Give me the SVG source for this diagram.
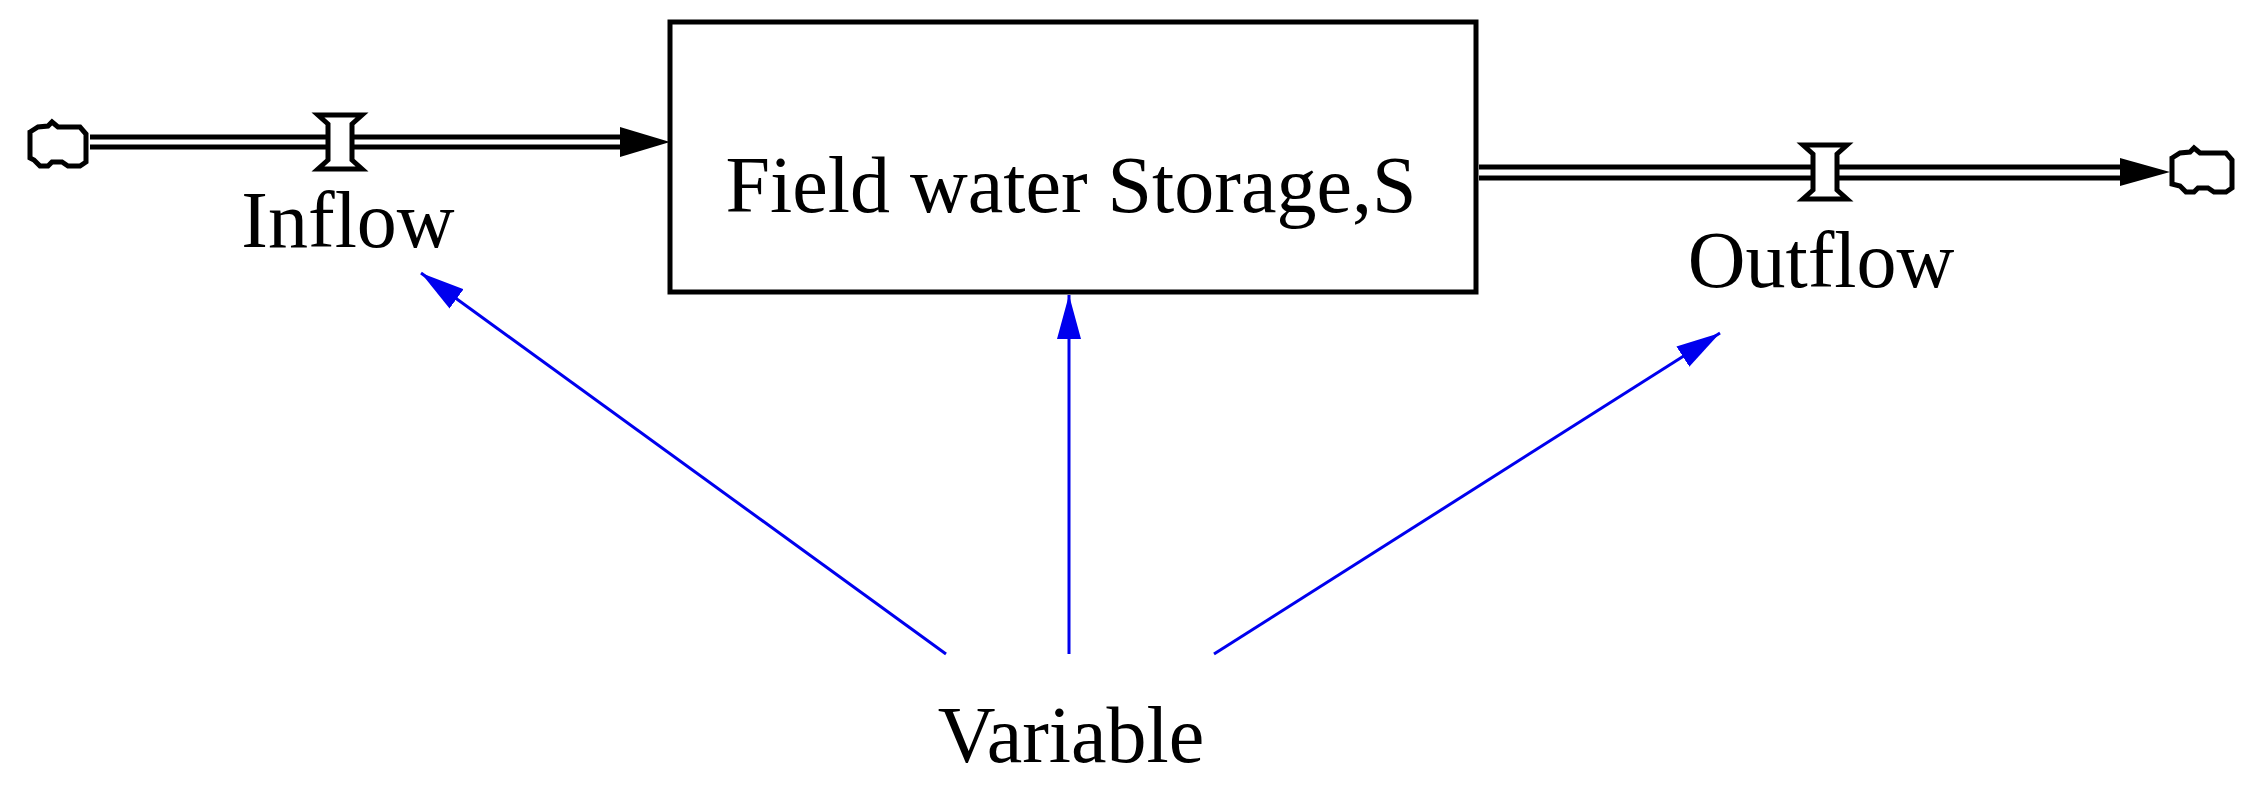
<svg xmlns="http://www.w3.org/2000/svg" width="2253" height="795" viewBox="0 0 2253 795">
<style>
text{font-family:"Liberation Serif",serif;font-size:80px;fill:#000}
.pipe{stroke:#000;stroke-width:5;fill:none}
.link{stroke:#0000ee;stroke-width:3;fill:none;marker-end:url(#ba)}
.cloud{fill:#fff;stroke:#000;stroke-width:5}
.valve{fill:#fff;stroke:#000;stroke-width:5}
</style>
<defs>
<marker id="ba" markerWidth="44" markerHeight="24" refX="44" refY="12" orient="auto" markerUnits="userSpaceOnUse" viewBox="0 0 44 24"><path d="M0,0L44,12L0,24z" fill="#0000ee"/></marker>
</defs>
<rect width="2253" height="795" fill="#fff"/>
<g id="connectors">
<line class="pipe" x1="90" y1="137" x2="625" y2="137"/>
<line class="pipe" x1="90" y1="147" x2="625" y2="147"/>
<path d="M620,127L670,142L620,157z" fill="#000"/>
<line class="pipe" x1="1479" y1="167" x2="2128" y2="167"/>
<line class="pipe" x1="1479" y1="178" x2="2128" y2="178"/>
<path d="M2120,158L2170,172L2120,186z" fill="#000"/>
<path class="link" d="M946,654L421,273"/>
<path class="link" d="M1069,654L1069,295"/>
<path class="link" d="M1214,654L1720,333"/>
</g>
<g id="source"><path class="cloud" d="M30,132L38,127L48,126L52,122L58,127L80,127L86,134L86,162L80,166L68,166L62,162L52,162L48,166L40,166L34,160L30,158z"/></g>
<g id="inflow-valve"><path class="valve" d="M318,115L362,115L352,124L352,160L362,169L318,169L328,160L328,124z"/></g>
<g id="inflow-label"><text x="348" y="247" text-anchor="middle" font-size="73">Inflow</text></g>
<g id="stock"><rect x="670" y="22" width="806" height="270" fill="#fff" stroke="#000" stroke-width="5"/>
<text x="1071" y="212" text-anchor="middle" font-size="87">Field water Storage,S</text></g>
<g id="outflow-valve"><path class="valve" d="M1803,145L1847,145L1837,154L1837,190L1847,199L1803,199L1813,190L1813,154z"/></g>
<g id="outflow-label"><text x="1821" y="287" text-anchor="middle" font-size="76">Outflow</text></g>
<g id="sink"><path class="cloud" d="M2172,158L2180,153L2190,152L2194,148L2200,153L2226,153L2232,160L2232,188L2226,192L2214,192L2208,188L2198,188L2194,192L2186,192L2180,186L2172,184z"/></g>
<g id="variable"><text x="1071" y="762" text-anchor="middle" font-size="79">Variable</text></g>
</svg>
